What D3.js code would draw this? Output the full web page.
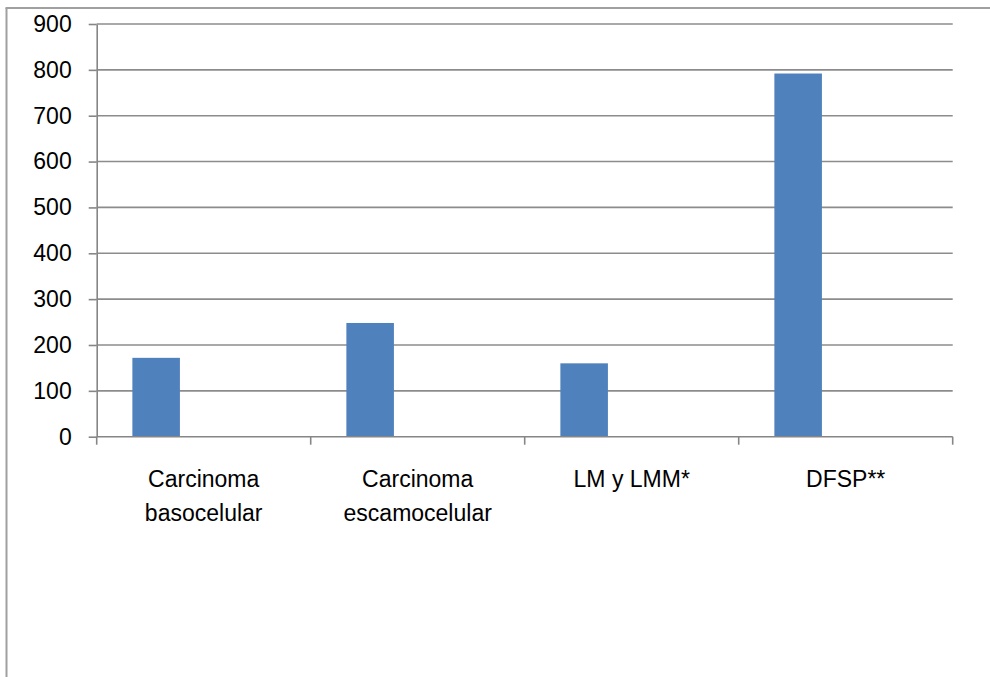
<!DOCTYPE html>
<html lang="es">
<head>
    <meta charset="UTF-8">
    <title>Chart</title>
    <script src="https://d3js.org/d3.v7.min.js"></script>
    <style>
        body { margin: 0; background: #fff; }
        text { font-family: "Liberation Sans", Arial, sans-serif; fill: #000; }
    </style>
</head>
<body>
    <svg width="990" height="677" id="mainsvg"></svg>

    <script>
        // values
        const categories = ["Carcinoma basocelular", "Carcinoma escamocelular", "LM y LMM*", "DFSP**"]
        const values = [172, 248, 160, 792]
        const yTicks = [0, 100, 200, 300, 400, 500, 600, 700, 800, 900]
        // excel style: 3 series slots per category, only first one is filled
        const seriesSlots = ["s1", "s2", "s3"]

        const svg = d3.select("#mainsvg")
        const width = +svg.attr("width"), height = +svg.attr("height")
        const margin = {top: 24, right: 37.3, bottom: 240.3, left: 96.7}
        const innerWidth = width - margin.left - margin.right
        const innerHeight = height - margin.top - margin.bottom
        const fontSize = 23

        // outer frame (only top and left edge visible)
        svg.append("line").attr("x1", 6.5).attr("x2", 6.5).attr("y1", 8).attr("y2", height)
            .attr("stroke", "#a0a0a0").attr("stroke-width", 2)
        svg.append("line").attr("x1", 5.5).attr("x2", width).attr("y1", 8).attr("y2", 8)
            .attr("stroke", "#a0a0a0").attr("stroke-width", 2)

        const g = svg.append("g").attr("transform", `translate(${margin.left}, ${margin.top})`)

        const xScale = d3.scaleBand().domain(categories).range([0, innerWidth]).padding(0)
        const slotScale = d3.scaleBand().domain(seriesSlots).range([0, xScale.bandwidth()])
            .paddingInner(0).paddingOuter(0.75)
        const yScale = d3.scaleLinear().domain([0, 900]).range([innerHeight, 0])

        // gridlines
        g.append("g").selectAll("line").data(yTicks.filter(d => d > 0)).join("line")
            .attr("x1", 0).attr("x2", innerWidth)
            .attr("y1", d => yScale(d)).attr("y2", d => yScale(d))
            .attr("stroke", "#8c8c8c").attr("stroke-width", 1.6)

        // bars
        g.append("g").selectAll("rect").data(values).join("rect")
            .attr("x", (d, i) => xScale(categories[i]) + slotScale("s1"))
            .attr("width", slotScale.bandwidth())
            .attr("y", d => yScale(d))
            .attr("height", d => innerHeight - yScale(d))
            .attr("fill", "#4f81bd")

        // y axis
        const yAxis = d3.axisLeft(yScale).tickValues(yTicks).tickSize(8).tickSizeOuter(0).tickPadding(17)
        const yG = g.append("g").call(yAxis)
        yG.select(".domain").attr("stroke", "#868686").attr("stroke-width", 1.6)
        yG.selectAll(".tick line").attr("stroke", "#868686").attr("stroke-width", 1.6)
        yG.selectAll(".tick text").attr("font-size", fontSize).attr("font-family", null)

        // x axis, ticks on band boundaries
        const xG = g.append("g").attr("transform", `translate(0, ${innerHeight})`)
        xG.append("line").attr("x1", 0).attr("x2", innerWidth)
            .attr("stroke", "#868686").attr("stroke-width", 1.6)
        const bounds = categories.map(c => xScale(c)).concat([innerWidth])
        xG.selectAll(".bt").data(bounds).join("line").attr("class", "bt")
            .attr("x1", d => d).attr("x2", d => d).attr("y1", 0).attr("y2", 8)
            .attr("stroke", "#868686").attr("stroke-width", 1.6)

        const labels = xG.selectAll(".lab").data(categories).join("text").attr("class", "lab")
            .attr("x", d => xScale(d) + xScale.bandwidth() / 2)
            .attr("y", 50)
            .attr("text-anchor", "middle")
            .attr("font-size", fontSize)
            .text(d => d)
        labels.call(wrap, xScale.bandwidth() * 0.9)

        function wrap(sel, maxW) {
            sel.each(function () {
                const text = d3.select(this)
                const words = text.text().split(/\s+/)
                const x = text.attr("x")
                text.text(null)
                let line = []
                let tspan = text.append("tspan").attr("x", x).attr("dy", 0)
                words.forEach(w => {
                    line.push(w)
                    tspan.text(line.join(" "))
                    if (tspan.node().getComputedTextLength() > maxW && line.length > 1) {
                        line.pop()
                        tspan.text(line.join(" "))
                        line = [w]
                        tspan = text.append("tspan").attr("x", x).attr("dy", 34).text(w)
                    }
                })
            })
        }
    </script>
</body>
</html>
